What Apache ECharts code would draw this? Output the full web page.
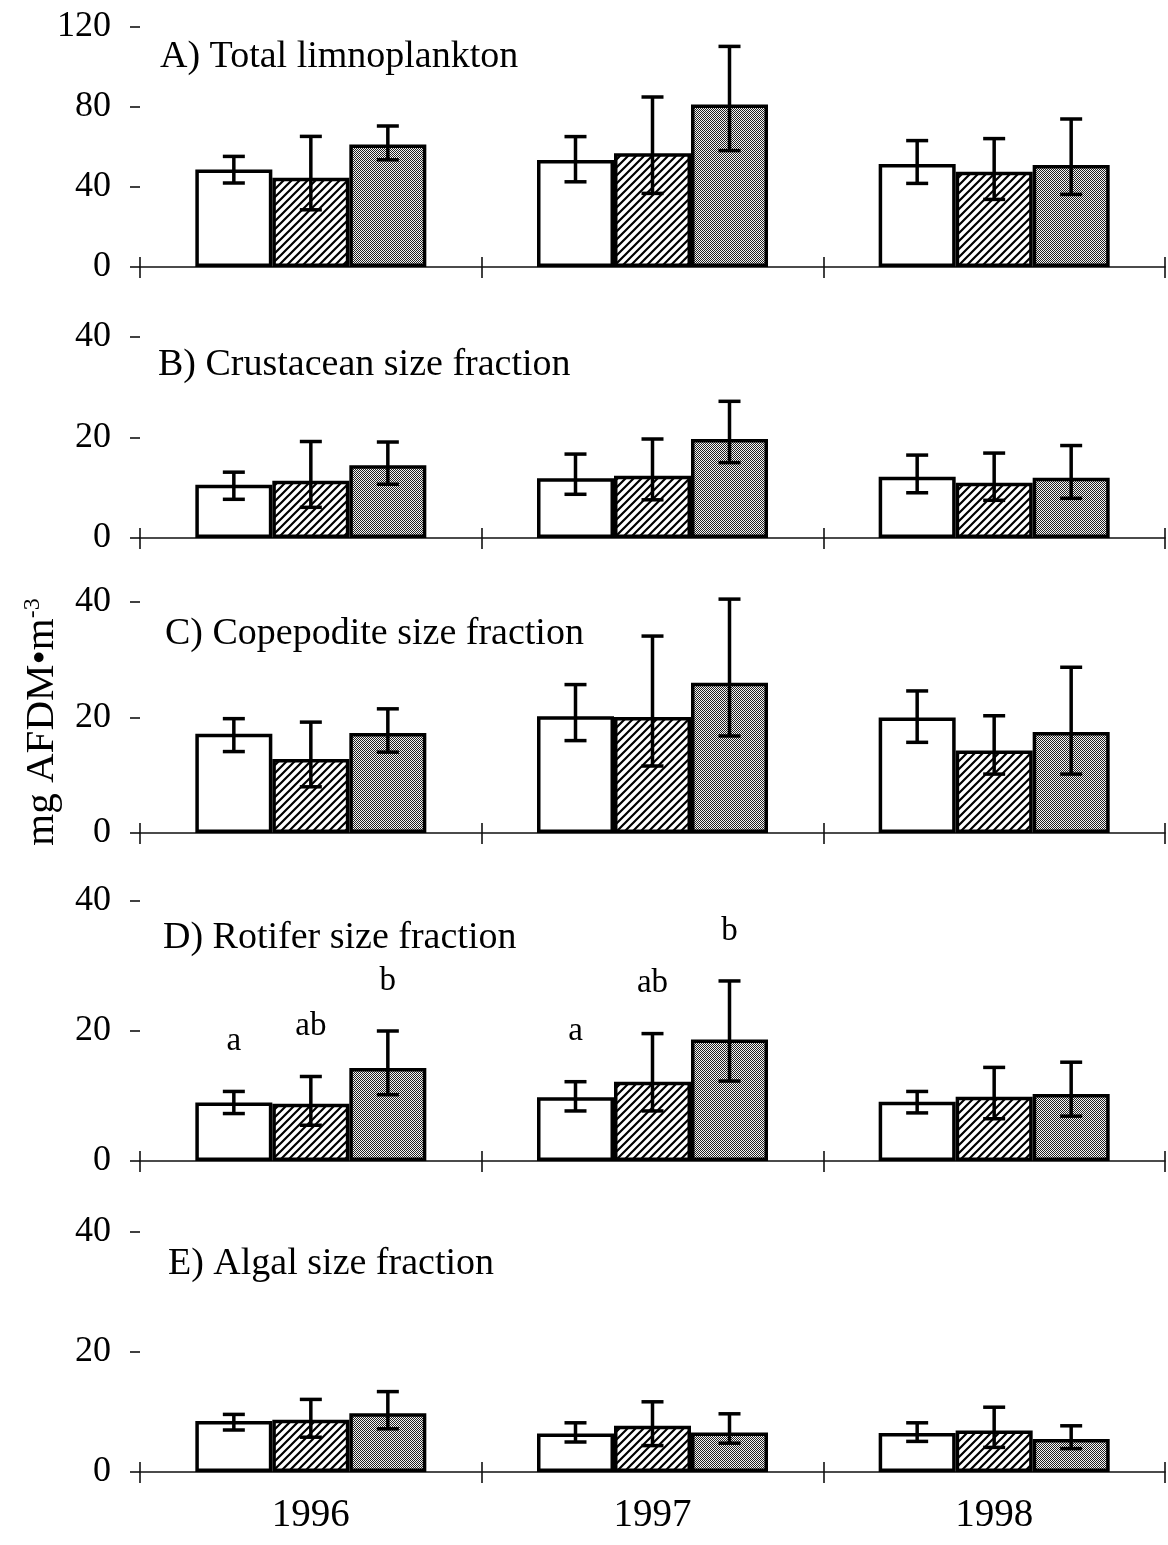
<!DOCTYPE html>
<html>
<head>
<meta charset="utf-8">
<script src="https://cdn.jsdelivr.net/npm/echarts@6/dist/echarts.min.js"></script>
<style>
  html, body { margin: 0; padding: 0; background: #fff; }
  #chart { width: 1168px; height: 1545px; }
</style>
</head>
<body>
<div id="chart"></div>
<script>
// ---- categories and labels ----
const years = ['1996', '1997', '1998'];
const treatments = ['Treatment 1', 'Treatment 2', 'Treatment 3'];
const panelTitles = [
  'A) Total limnoplankton',
  'B) Crustacean size fraction',
  'C) Copepodite size fraction',
  'D) Rotifer size fraction',
  'E) Algal size fraction'
];
const yMaxes = [120, 40, 40, 40, 40];
const ySteps = [40, 20, 20, 20, 20];

// ---- values (mg AFDM m^-3); rows = treatment, columns = year ----
const totalMean  = [[48.7, 53.5, 51.5], [44.6, 56.9, 47.6], [61.3, 81.2, 51.0]];
const totalLow   = [[42.0, 42.6, 41.8], [28.6, 36.8, 33.8], [53.6, 58.2, 36.3]];
const totalHigh  = [[55.3, 65.2, 63.2], [65.3, 85.0, 64.2], [70.5, 110.3, 74.0]];

const crustMean  = [[10.6, 11.9, 12.2], [11.4, 12.4, 11.0], [14.5, 19.7, 12.0]];
const crustLow   = [[7.7, 8.7, 9.0], [6.1, 7.6, 7.5], [10.7, 15.0, 7.9]];
const crustHigh  = [[13.1, 16.7, 16.5], [19.2, 19.7, 16.9], [19.1, 27.2, 18.4]];

const copeMean   = [[17.2, 20.2, 20.0], [12.8, 20.1, 14.3], [17.3, 26.0, 17.5]];
const copeLow    = [[14.1, 16.0, 15.7], [8.0, 11.6, 10.2], [14.0, 16.8, 10.2]];
const copeHigh   = [[19.8, 25.7, 24.6], [19.2, 34.1, 20.3], [21.5, 40.5, 28.7]];

const rotMean    = [[9.0, 9.8, 9.1], [8.8, 12.2, 9.9], [14.3, 18.7, 10.3]];
const rotLow     = [[7.3, 7.7, 7.4], [5.5, 7.7, 6.5], [10.2, 12.3, 6.9]];
const rotHigh    = [[10.7, 12.2, 10.7], [13.0, 19.6, 14.4], [20.0, 27.7, 15.2]];

const algMean    = [[8.5, 6.4, 6.5], [8.7, 7.7, 6.9], [9.8, 6.6, 5.5]];
const algLow     = [[7.0, 5.0, 5.1], [5.8, 4.4, 4.1], [7.2, 4.8, 3.9]];
const algHigh    = [[9.6, 8.2, 8.2], [12.1, 11.7, 10.8], [13.4, 9.7, 7.7]];

// significance letters for the rotifer panel; rows = treatment, columns = year
const rotLetters = [['a', 'a', ''], ['ab', 'ab', ''], ['b', 'b', '']];

// ---- assemble ----
const means = [totalMean, crustMean, copeMean, rotMean, algMean];
const lows  = [totalLow, crustLow, copeLow, rotLow, algLow];
const highs = [totalHigh, crustHigh, copeHigh, rotHigh, algHigh];

// layout of the five stacked panels (pixels)
const gridTops    = [27, 337, 602, 901, 1232];
const gridHeights = [240, 201, 231, 260, 240];
const titleTops   = [38, 346, 615, 919, 1245];
const titleLefts  = [160, 158, 165, 163, 168];

const SERIF = '"Liberation Serif", "Times New Roman", serif';
const BAR_W = 77;
const CAP_W = 22;
const INK = '#111';

// fill textures
function hatchPattern() {
  const s = 8;
  const c = document.createElement('canvas');
  c.width = s; c.height = s;
  const g = c.getContext('2d');
  g.fillStyle = '#fff';
  g.fillRect(0, 0, s, s);
  g.strokeStyle = '#000';
  g.lineWidth = 2.2;
  g.beginPath();
  g.moveTo(-s, s); g.lineTo(s, -s);
  g.moveTo(0, 2 * s); g.lineTo(2 * s, 0);
  g.moveTo(-s / 2, s + s / 2); g.lineTo(s + s / 2, -s / 2);
  g.stroke();
  return c;
}
function stipplePattern() {
  const c = document.createElement('canvas');
  c.width = 2; c.height = 2;
  const g = c.getContext('2d');
  g.fillStyle = '#f4f4f4';
  g.fillRect(0, 0, 2, 2);
  g.fillStyle = '#222';
  g.fillRect(0, 0, 1, 1);
  g.fillRect(1, 1, 1, 1);
  return c;
}
const fills = [
  '#ffffff',
  { image: hatchPattern(), repeat: 'repeat' },
  { image: stipplePattern(), repeat: 'repeat' }
];

const grids = [], xAxes = [], yAxes = [], series = [], titles = [];

panelTitles.forEach((t, i) => {
  grids.push({ left: 140, right: 3, top: gridTops[i], height: gridHeights[i] });

  // main category axis (line, downward ticks, year labels on the last panel)
  xAxes.push({
    type: 'category', gridIndex: i, data: years, position: 'bottom',
    axisLine: { show: true, onZero: false, lineStyle: { color: INK, width: 1.6 } },
    axisTick: { show: true, length: 11, lineStyle: { color: INK, width: 1.6 } },
    axisLabel: { show: i === 4, margin: 24, fontSize: 39, color: '#000', fontFamily: SERIF },
    splitLine: { show: false }
  });
  // companion axis: upward half of the crossing ticks
  xAxes.push({
    type: 'category', gridIndex: i, data: years, position: 'bottom',
    axisLine: { show: false, onZero: false },
    axisTick: { show: true, inside: true, length: 10, lineStyle: { color: INK, width: 1.6 } },
    axisLabel: { show: false },
    splitLine: { show: false }
  });

  yAxes.push({
    type: 'value', gridIndex: i, min: 0, max: yMaxes[i], interval: ySteps[i],
    axisLine: { show: false },
    axisTick: { show: true, length: 10, lineStyle: { color: INK, width: 1.6 } },
    axisLabel: { margin: 29, fontSize: 36, color: '#000', fontFamily: SERIF },
    splitLine: { show: false }
  });

  titles.push({
    text: t, left: titleLefts[i], top: titleTops[i], padding: 0,
    textStyle: { fontSize: 38, fontWeight: 'normal', color: '#000', fontFamily: SERIF }
  });

  // bars
  treatments.forEach((name, s) => {
    series.push({
      type: 'bar', name: name + ' ' + t,
      xAxisIndex: 2 * i, yAxisIndex: i,
      data: means[i][s],
      barWidth: BAR_W, barGap: '0%',
      itemStyle: { color: fills[s], borderColor: '#000', borderWidth: 3.5 },
      z: 2, silent: true
    });
  });

  // error bars: [year index, treatment index, low, high]
  const errData = [];
  treatments.forEach((_, s) => {
    years.forEach((_, y) => errData.push([y, s, lows[i][s][y], highs[i][s][y]]));
  });
  series.push({
    type: 'custom', xAxisIndex: 2 * i, yAxisIndex: i, z: 5, silent: true,
    data: errData,
    encode: { x: 0, y: [2, 3] },
    renderItem: function (params, api) {
      const cat = api.value(0), s = api.value(1);
      const lo = api.coord([cat, api.value(2)]);
      const hi = api.coord([cat, api.value(3)]);
      const x = lo[0] + (s - 1) * BAR_W;
      const st = { stroke: '#000', lineWidth: 3.5 };
      return {
        type: 'group',
        children: [
          { type: 'line', shape: { x1: x, y1: lo[1], x2: x, y2: hi[1] }, style: st },
          { type: 'line', shape: { x1: x - CAP_W / 2, y1: hi[1], x2: x + CAP_W / 2, y2: hi[1] }, style: st },
          { type: 'line', shape: { x1: x - CAP_W / 2, y1: lo[1], x2: x + CAP_W / 2, y2: lo[1] }, style: st }
        ]
      };
    }
  });
});

// significance letters above the rotifer error bars
const letterData = [], letterText = [];
rotLetters.forEach((row, s) => {
  row.forEach((txt, y) => {
    if (txt) { letterData.push([y, s, rotHigh[s][y]]); letterText.push(txt); }
  });
});
series.push({
  type: 'custom', xAxisIndex: 6, yAxisIndex: 3, z: 6, silent: true,
  data: letterData,
  encode: { x: 0, y: 2 },
  renderItem: function (params, api) {
    const cat = api.value(0), s = api.value(1);
    const p = api.coord([cat, api.value(2)]);
    return {
      type: 'text',
      style: {
        x: p[0] + (s - 1) * BAR_W, y: p[1] - 50,
        text: letterText[params.dataIndex],
        fill: '#000', font: '33px ' + SERIF,
        align: 'center', verticalAlign: 'middle'
      }
    };
  }
});

const chart = echarts.init(document.getElementById('chart'), null, { renderer: 'canvas' });
chart.setOption({
  animation: false,
  backgroundColor: '#fff',
  title: titles,
  grid: grids,
  xAxis: xAxes,
  yAxis: yAxes,
  series: series,
  graphic: [{
    type: 'text', x: 42, y: 722, rotation: Math.PI / 2,
    style: {
      text: '{a|mg AFDM•m}{s|-3}',
      align: 'center', verticalAlign: 'middle',
      rich: {
        a: { fontSize: 41, fontFamily: SERIF, fill: '#000', lineHeight: 42 },
        s: { fontSize: 24, fontFamily: SERIF, fill: '#000', verticalAlign: 'top', lineHeight: 42, padding: [0, 0, 18, 0] }
      }
    }
  }]
});
</script>
</body>
</html>
